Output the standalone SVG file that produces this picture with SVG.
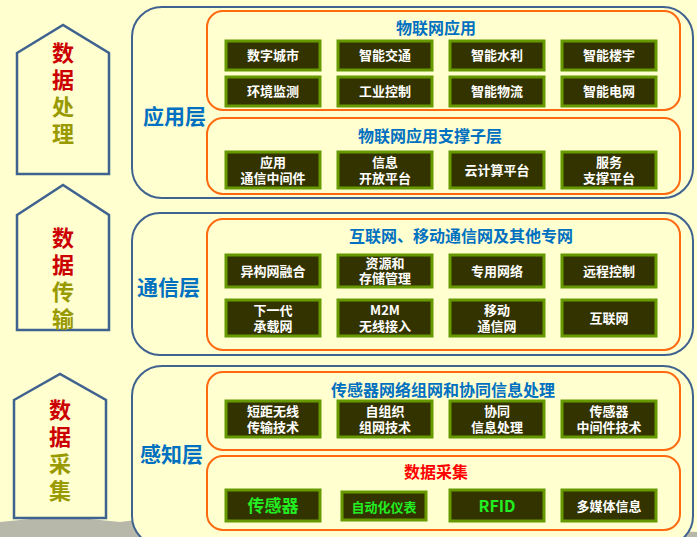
<svg xmlns="http://www.w3.org/2000/svg" width="697" height="537" viewBox="0 0 697 537">
<style>
.pent{fill:#FFFFD0;stroke:#3F628F;stroke-width:2.5}
.layer{fill:#FFFFD0;stroke:#3F628F;stroke-width:2}
.sub{fill:#FFFFD0;stroke:#FF6A10;stroke-width:2}
.box{fill:#333300;stroke:#669900;stroke-width:3}
.bt{font-family:"Noto Sans CJK SC",sans-serif;font-weight:bold;font-size:13px;fill:#fff;text-anchor:middle}
.lt{font-family:"Noto Sans CJK SC",sans-serif;font-size:21px;fill:#0070C0;font-weight:bold}
.st{font-family:"Noto Sans CJK SC",sans-serif;font-size:16px;fill:#0070C0;font-weight:bold;text-anchor:middle}
.vt{font-family:"Noto Sans CJK SC",sans-serif;font-size:22px;font-weight:bold;text-anchor:middle}
.r{fill:#CC0000}.y{fill:#999900}
.g{fill:#22EE22}
</style>
<rect width="697" height="537" fill="#FFFFD0"/>
<path d="M0 537 L0 522 L60 516 L120 522 L200 512 L260 520 L330 518 L400 528 L460 522 L520 530 L600 527 L697 532 L697 537 Z" fill="#9A9A9A" opacity="0.7"/>
<g id="left1"><polygon class="pent" points="17,53 63,25 109,53 109,174 17,174"/>
<text class="vt r" x="63" y="61">数</text><text class="vt r" x="63" y="88">据</text><text class="vt y" x="63" y="115">处</text><text class="vt y" x="63" y="142">理</text></g>
<g id="left2"><polygon class="pent" points="17,215 63,185 109,215 109,330 17,330"/>
<text class="vt r" x="63" y="246">数</text><text class="vt r" x="63" y="273">据</text><text class="vt y" x="63" y="300">传</text><text class="vt y" x="63" y="327">输</text></g>
<g id="left3"><polygon class="pent" points="14,400 60,374 106,400 106,518 14,518"/>
<text class="vt r" x="60" y="418">数</text><text class="vt r" x="60" y="445">据</text><text class="vt y" x="60" y="472">采</text><text class="vt y" x="60" y="499">集</text></g>

<g id="app"><rect class="layer" x="132" y="7" width="561" height="191" rx="30"/>
<text class="lt" x="143" y="124">应用层</text>
<rect class="sub" x="207" y="11" width="473" height="99" rx="16"/>
<text class="st" x="436" y="34">物联网应用</text>
<rect class="sub" x="207" y="118" width="473" height="76" rx="16"/>
<text class="st" x="430" y="142">物联网应用支撑子层</text></g>
<g id="app-boxes">
<rect class="box" x="226" y="41" width="94" height="29"/><text class="bt" x="273" y="60">数字城市</text>
<rect class="box" x="338" y="41" width="94" height="29"/><text class="bt" x="385" y="60">智能交通</text>
<rect class="box" x="450" y="41" width="94" height="29"/><text class="bt" x="497" y="60">智能水利</text>
<rect class="box" x="562" y="41" width="94" height="29"/><text class="bt" x="609" y="60">智能楼宇</text>
<rect class="box" x="226" y="77" width="94" height="29"/><text class="bt" x="273" y="96">环境监测</text>
<rect class="box" x="338" y="77" width="94" height="29"/><text class="bt" x="385" y="96">工业控制</text>
<rect class="box" x="450" y="77" width="94" height="29"/><text class="bt" x="497" y="96">智能物流</text>
<rect class="box" x="562" y="77" width="94" height="29"/><text class="bt" x="609" y="96">智能电网</text>
<rect class="box" x="226" y="152" width="94" height="36"/><text class="bt" x="273" y="167">应用</text><text class="bt" x="273" y="183">通信中间件</text>
<rect class="box" x="338" y="152" width="94" height="36"/><text class="bt" x="385" y="167">信息</text><text class="bt" x="385" y="183">开放平台</text>
<rect class="box" x="450" y="152" width="94" height="36"/><text class="bt" x="497" y="175">云计算平台</text>
<rect class="box" x="562" y="152" width="94" height="36"/><text class="bt" x="609" y="167">服务</text><text class="bt" x="609" y="183">支撑平台</text>
</g>

<g id="comm"><rect class="layer" x="132" y="213" width="561" height="142" rx="28"/>
<text class="lt" x="137" y="295">通信层</text>
<rect class="sub" x="207" y="219" width="473" height="131" rx="16"/>
<text class="st" x="461" y="242">互联网、移动通信网及其他专网</text></g>
<g id="comm-boxes">
<rect class="box" x="226" y="255" width="94" height="32"/><text class="bt" x="273" y="276">异构网融合</text>
<rect class="box" x="338" y="255" width="94" height="32"/><text class="bt" x="385" y="268">资源和</text><text class="bt" x="385" y="283">存储管理</text>
<rect class="box" x="450" y="255" width="94" height="32"/><text class="bt" x="497" y="276">专用网络</text>
<rect class="box" x="562" y="255" width="94" height="32"/><text class="bt" x="609" y="276">远程控制</text>
<rect class="box" x="226" y="300" width="94" height="36"/><text class="bt" x="273" y="315">下一代</text><text class="bt" x="273" y="331">承载网</text>
<rect class="box" x="338" y="300" width="94" height="36"/><text class="bt" x="385" y="315">M2M</text><text class="bt" x="385" y="331">无线接入</text>
<rect class="box" x="450" y="300" width="94" height="36"/><text class="bt" x="497" y="315">移动</text><text class="bt" x="497" y="331">通信网</text>
<rect class="box" x="562" y="300" width="94" height="36"/><text class="bt" x="609" y="323">互联网</text>
</g>

<g id="sense"><rect class="layer" x="132" y="366" width="561" height="180" rx="30"/>
<text class="lt" x="140" y="462">感知层</text>
<rect class="sub" x="207" y="372" width="473" height="78" rx="16"/>
<text class="st" x="443" y="396">传感器网络组网和协同信息处理</text>
<rect class="sub" x="207" y="456" width="473" height="74" rx="16"/>
<text class="st" x="436" y="478" style="fill:#FF0000">数据采集</text></g>
<g id="sense-boxes">
<rect class="box" x="226" y="401" width="94" height="36"/><text class="bt" x="273" y="416">短距无线</text><text class="bt" x="273" y="432">传输技术</text>
<rect class="box" x="338" y="401" width="94" height="36"/><text class="bt" x="385" y="416">自组织</text><text class="bt" x="385" y="432">组网技术</text>
<rect class="box" x="450" y="401" width="94" height="36"/><text class="bt" x="497" y="416">协同</text><text class="bt" x="497" y="432">信息处理</text>
<rect class="box" x="562" y="401" width="94" height="36"/><text class="bt" x="609" y="416">传感器</text><text class="bt" x="609" y="432">中间件技术</text>
<rect class="box" x="226" y="490" width="94" height="31"/><text class="bt g" x="273" y="512" style="font-size:17px">传感器</text>
<rect class="box" x="342" y="492" width="84" height="28"/><text class="bt g" x="384" y="512">自动化仪表</text>
<rect class="box" x="450" y="490" width="94" height="31"/><text class="bt g" x="497" y="512" style="font-size:16px">RFID</text>
<rect class="box" x="562" y="490" width="94" height="31"/><text class="bt" x="609" y="511">多媒体信息</text>
</g>
</svg>
